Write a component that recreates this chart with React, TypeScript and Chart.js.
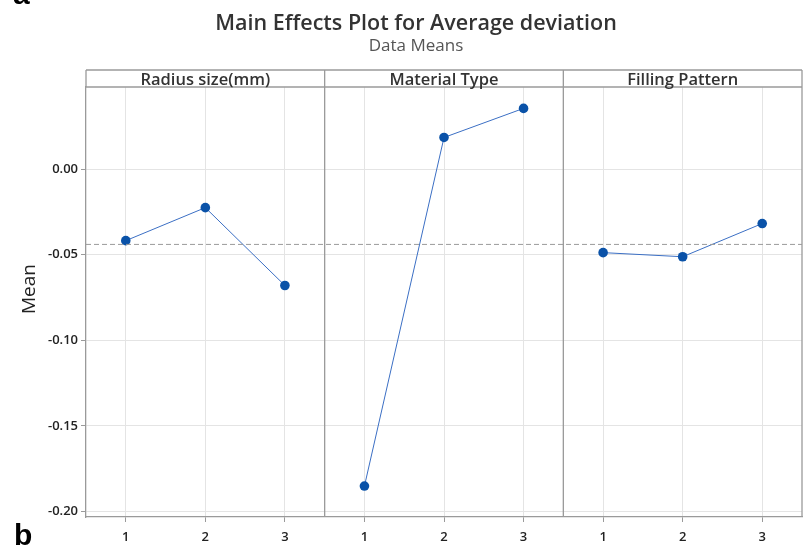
import React, { useEffect, useRef } from 'react';
import { Chart, registerables } from 'chart.js';

Chart.register(...registerables);

const TITLE = 'Main Effects Plot for Average deviation';
const SUBTITLE = 'Data Means';
const Y_LABEL = 'Mean';
const factors = ['Radius size(mm)', 'Material Type', 'Filling Pattern'];
const levels = ['1', '2', '3'];
const radiusMeans = [-0.0418, -0.0225, -0.068];
const materialMeans = [-0.1852, 0.0185, 0.0355];
const fillingMeans = [-0.0488, -0.0512, -0.0318];
const overallMean = -0.044;
const yTicks = [0, -0.05, -0.1, -0.15, -0.2];
const yMin = -0.2033;
const yMax = 0.048;

const FONT = "'Open Sans', 'Noto Sans', sans-serif";

const seriesList = [radiusMeans, materialMeans, fillingMeans];
const nLev = levels.length;

const overlay = {
  id: 'overlay',
  afterDraw(chart: any) {
    const ctx = chart.ctx;
    const xs = chart.scales.x;
    const area = chart.chartArea;
    const stripTop = 70;
    ctx.save();
    // titles
    ctx.fillStyle = '#333';
    ctx.textAlign = 'center';
    ctx.textBaseline = 'alphabetic';
    ctx.font = `600 21.5px ${FONT}`;
    ctx.fillText(TITLE, 416, 30);
    ctx.fillStyle = '#555';
    ctx.font = `400 17px ${FONT}`;
    ctx.fillText(SUBTITLE, 416, 51);
    // y label
    ctx.save();
    ctx.translate(35, 289);
    ctx.rotate(-Math.PI / 2);
    ctx.fillStyle = '#222';
    ctx.font = `400 19px ${FONT}`;
    ctx.fillText(Y_LABEL, 0, 0);
    ctx.restore();
    // strip headers and panel borders
    ctx.strokeStyle = '#9a9a9a';
    ctx.lineWidth = 1.3;
    ctx.beginPath();
    ctx.moveTo(area.left, stripTop);
    ctx.lineTo(area.right, stripTop);
    ctx.moveTo(area.left, area.top);
    ctx.lineTo(area.right, area.top);
    ctx.moveTo(area.left, stripTop);
    ctx.lineTo(area.left, area.top);
    ctx.moveTo(area.right, stripTop);
    ctx.lineTo(area.right, area.bottom);
    for (let i = 1; i < factors.length; i++) {
      const px = xs.getPixelForValue(i * nLev + 0.5);
      ctx.moveTo(px, stripTop);
      ctx.lineTo(px, area.bottom);
    }
    ctx.stroke();
    ctx.fillStyle = '#333';
    ctx.font = `600 16.5px ${FONT}`;
    factors.forEach((f, i) => {
      const a = xs.getPixelForValue(i * nLev + 0.5);
      const b = xs.getPixelForValue((i + 1) * nLev + 0.5);
      ctx.fillText(f, (a + b) / 2, 85);
    });
    // figure letters
    ctx.fillStyle = '#000';
    ctx.textAlign = 'left';
    ctx.font = `700 30px 'Liberation Sans', Arial, sans-serif`;
    ctx.fillText('a', 13, 4);
    ctx.fillText('b', 14, 545);
    ctx.restore();
  },
};

export default function App() {
  const ref = useRef<HTMLCanvasElement | null>(null);
  useEffect(() => {
    if (!ref.current) return;
    const datasets: any[] = seriesList.map((vals, i) => ({
      data: vals.map((v, j) => ({ x: i * nLev + j + 1, y: v })),
      borderColor: '#3b6fc4',
      borderWidth: 1,
      pointBackgroundColor: '#0a52a8',
      pointBorderColor: '#0a52a8',
      pointRadius: 4.8,
      pointBorderWidth: 0,
      tension: 0,
      fill: false,
    }));
    datasets.unshift({
      data: [
        { x: 0.5, y: overallMean },
        { x: factors.length * nLev + 0.5, y: overallMean },
      ],
      borderColor: '#9a9a9a',
      borderWidth: 1,
      borderDash: [5, 3],
      pointRadius: 0,
      fill: false,
    });
    const chart = new Chart(ref.current, {
      type: 'line',
      data: { datasets },
      options: {
        animation: false,
        responsive: false,
        devicePixelRatio: 1,
        layout: { autoPadding: false, padding: { top: 87, right: 1, left: 0, bottom: 0 } },
        plugins: { legend: { display: false }, tooltip: { enabled: false }, title: { display: false } },
        scales: {
          x: {
            type: 'linear',
            min: 0.5,
            max: factors.length * nLev + 0.5,
            afterBuildTicks: (s: any) => {
              const t: any[] = [];
              for (let i = 0; i < factors.length * nLev; i++) t.push({ value: i + 1 });
              s.ticks = t;
            },
            afterFit: (s: any) => {
              s.height = 35;
              s.paddingLeft = 0;
              s.paddingRight = 0;
            },
            ticks: {
              callback: (v: any) => levels[(Math.round(v) - 1) % nLev],
              font: { family: FONT, size: 13, weight: 600 },
              color: '#222',
              padding: 7,
              maxRotation: 0,
              autoSkip: false,
            },
            grid: { color: '#e4e4e4', lineWidth: 1, tickLength: 5, tickColor: '#9a9a9a' },
            border: { display: true, color: '#9a9a9a', width: 1.3 },
          },
          y: {
            min: yMin,
            max: yMax,
            afterBuildTicks: (s: any) => {
              s.ticks = yTicks.map((v) => ({ value: v }));
            },
            afterFit: (s: any) => {
              s.width = 86;
              s.paddingTop = 0;
              s.paddingBottom = 0;
            },
            ticks: {
              callback: (v: any) => Number(v).toFixed(2),
              font: { family: FONT, size: 13, weight: 600 },
              color: '#222',
              padding: 3,
            },
            grid: { color: '#e4e4e4', lineWidth: 1, tickLength: 5, tickColor: '#9a9a9a' },
            border: { display: true, color: '#9a9a9a', width: 1.3 },
          },
        },
      },
      plugins: [overlay],
    });
    return () => chart.destroy();
  }, []);
  return (
    <div style={{ position: 'fixed', left: 0, top: 0, width: 803, height: 552, background: '#fff' }}>
      <canvas ref={ref} width={803} height={552} style={{ display: 'block' }} />
    </div>
  );
}
